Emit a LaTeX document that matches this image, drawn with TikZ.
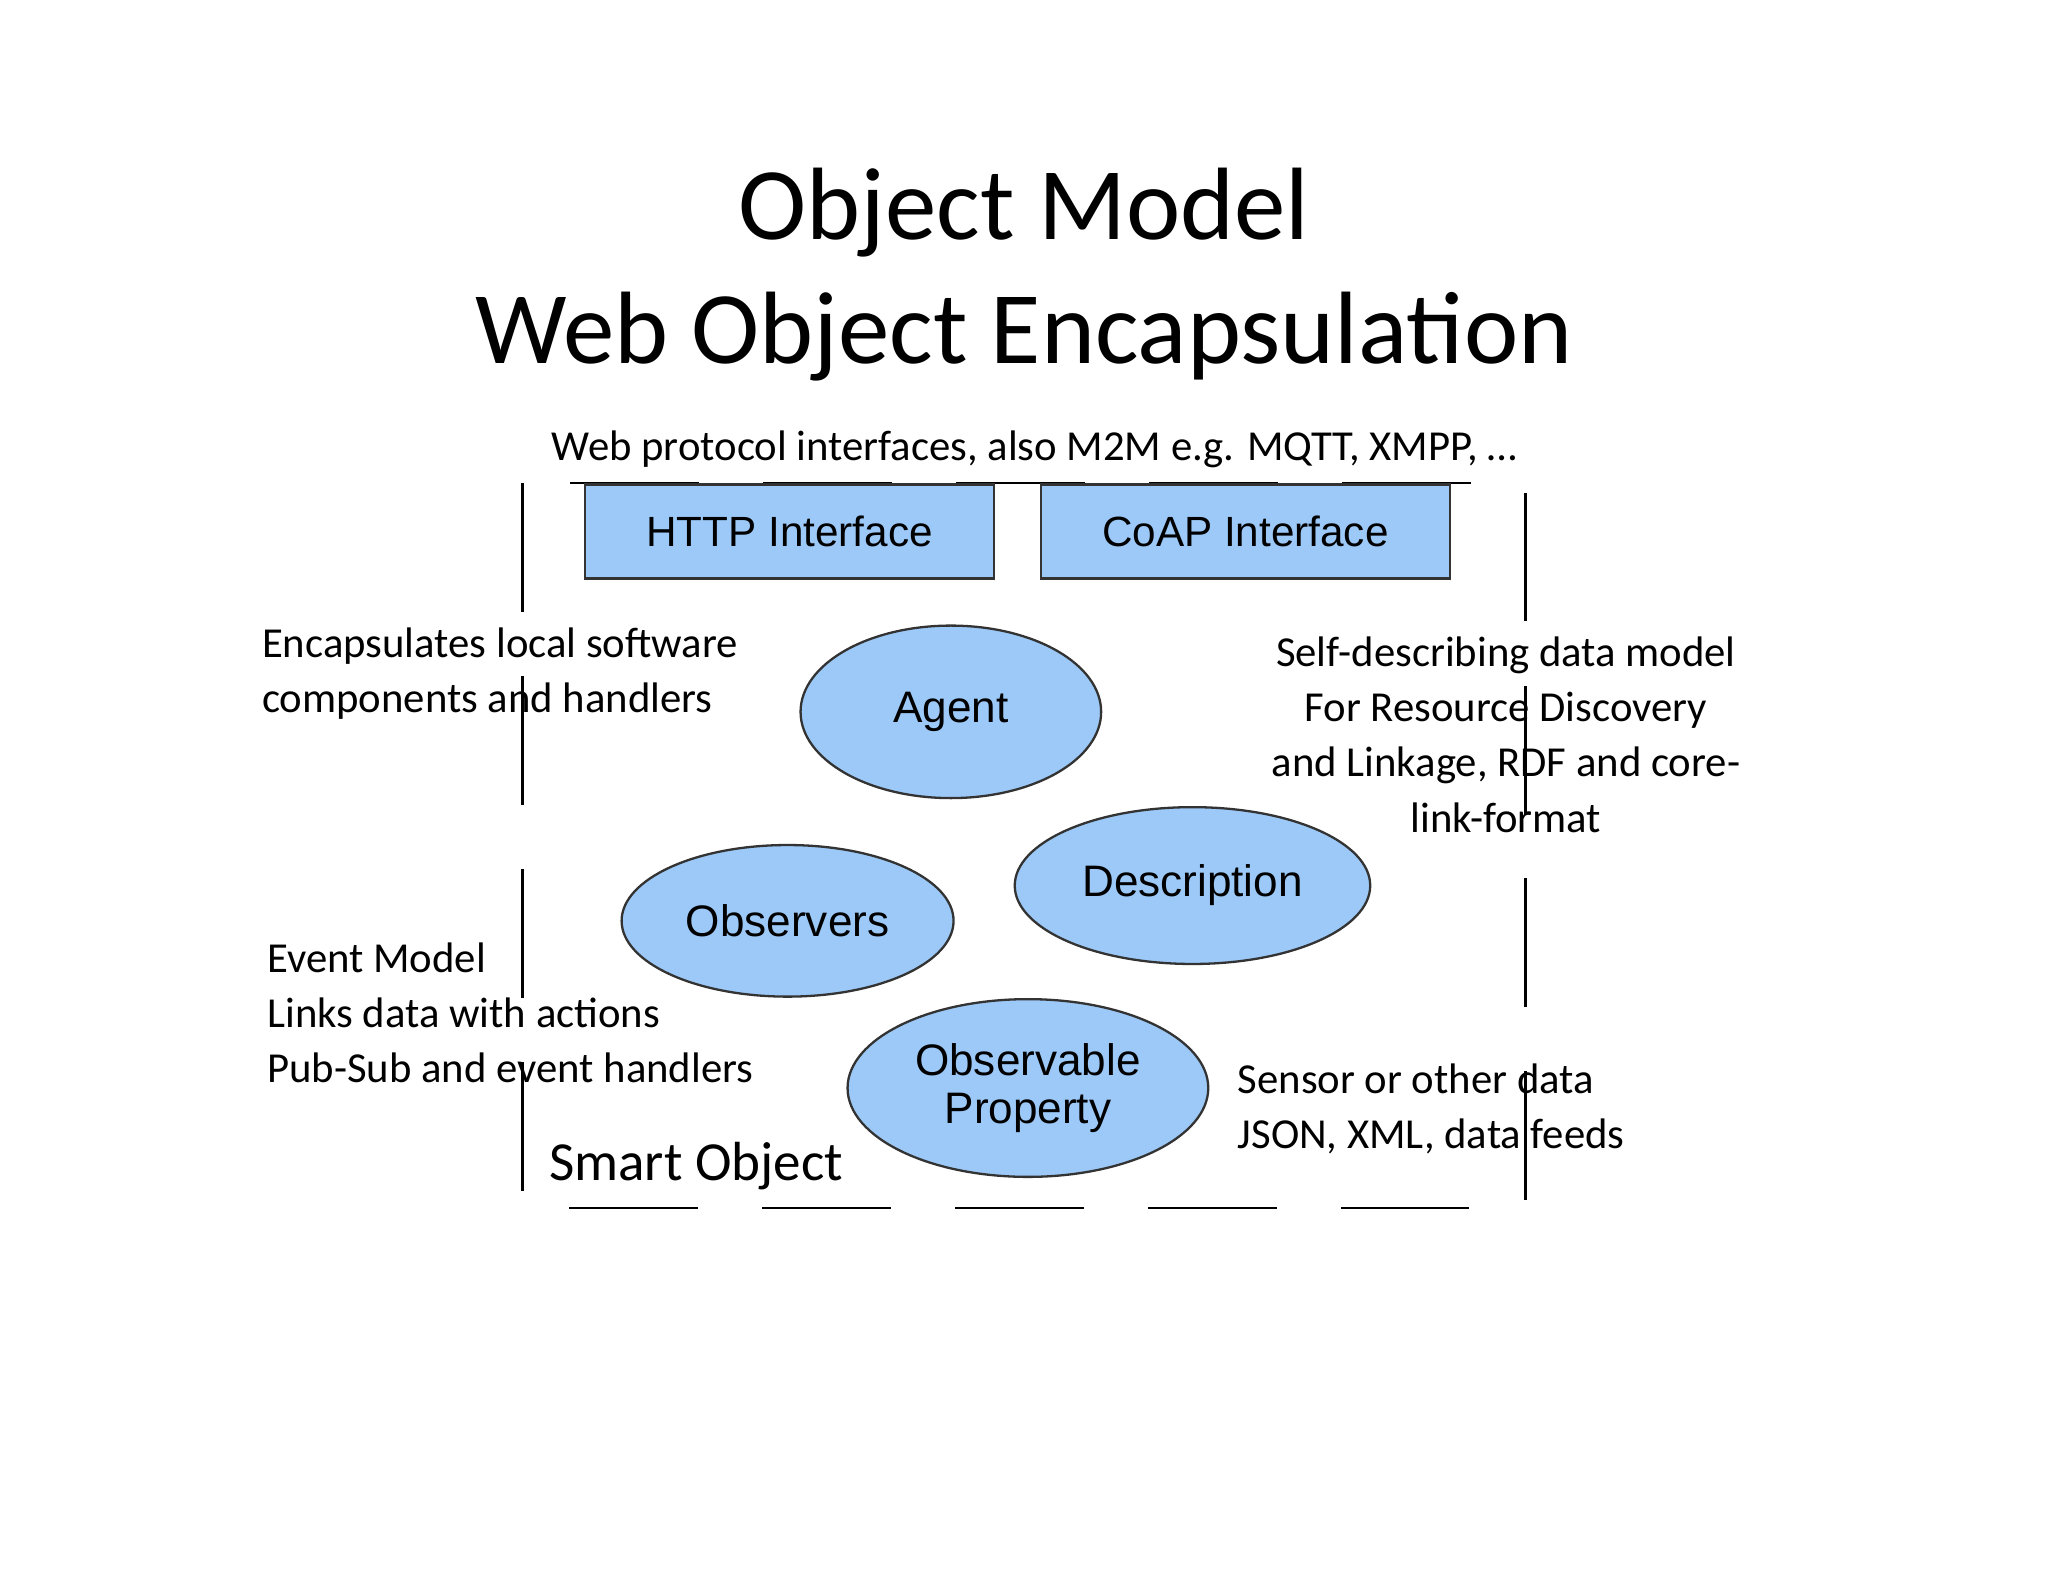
\documentclass[tikz,border=0pt]{standalone}
\usepackage{fontspec}
\usetikzlibrary{shapes.geometric}
\setmainfont{Carlito}
\newfontfamily\arialf{Liberation Sans}
\definecolor{bluef}{HTML}{9CC9F7}
\tikzset{
  box/.style={draw=black!80,fill=bluef,line width=0.5pt,font=\arialf\fontsize{9.2}{11}\selectfont},
  ell/.style={ellipse,draw=black!80,fill=bluef,line width=0.5pt,font=\arialf\fontsize{9.6}{10.5}\selectfont,align=center,inner sep=0pt},
  txt/.style={font=\fontsize{9.3}{12}\selectfont,align=left,anchor=north west,inner sep=0pt},
}
\begin{document}
\begin{tikzpicture}[x=0.01cm,y=-0.01cm]
\useasboundingbox (0,0) rectangle (1568,1211);
\node[font=\fontsize{22.4}{27}\selectfont] (t1) at (784,163) {Object Model};
\node[font=\fontsize{22.4}{27}\selectfont] (t2) at (784,258) {Web Object Encapsulation};
\node[font=\fontsize{9.3}{11}\selectfont] (sub) at (792,344) {Web protocol interfaces, also M2M e.g. MQTT, XMPP, \dots};
\draw[dash pattern=on 28pt off 14pt,line width=0.5pt] (400,370) rectangle (1168,925);
\node[box,minimum width=3.13cm,minimum height=0.72cm,anchor=north west] (http) at (447,370) {HTTP Interface};
\node[box,minimum width=3.13cm,minimum height=0.72cm,anchor=north west] (coap) at (796,370) {CoAP Interface};
\node[ell,minimum width=2.3cm,minimum height=1.32cm] (agent) at (728,545) {Agent};
\node[ell,minimum width=2.72cm,minimum height=1.2cm] (desc) at (913,678) {Description};
\node[ell,minimum width=2.54cm,minimum height=1.16cm] (obs) at (603,705) {Observers};
\node[ell,minimum width=2.76cm,minimum height=1.36cm] (prop) at (787,833) {Observable\\Property};
\node[txt] (a1) at (200,480) {Encapsulates local software\\components and handlers};
\node[txt,align=center,anchor=north] (a2) at (1153,487) {Self-describing data model\\For Resource Discovery\\and Linkage, RDF and core-\\link-format};
\node[txt] (a3) at (204,721) {Event Model\\Links data with actions\\Pub-Sub and event handlers};
\node[txt] (a4) at (947,814) {Sensor or other data\\JSON, XML, data feeds};
\node[font=\fontsize{12}{14}\selectfont,anchor=west] (so) at (408,893) {Smart Object};
\end{tikzpicture}
\end{document}
